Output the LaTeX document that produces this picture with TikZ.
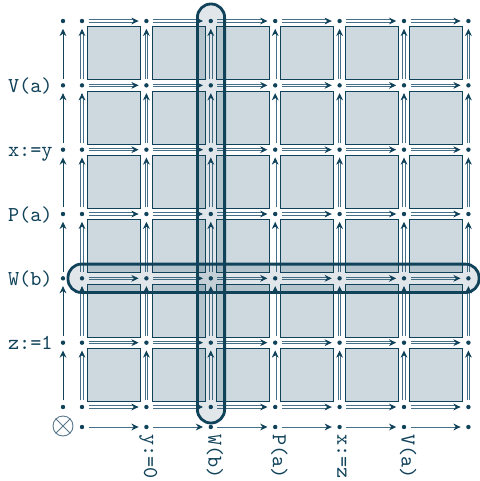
\documentclass[tikz,border=0pt]{standalone}
\usepackage{fontspec}
\usetikzlibrary{arrows.meta}
\definecolor{dk}{RGB}{16,66,90}
\definecolor{ln}{RGB}{70,112,136}
\definecolor{sq}{RGB}{205,216,223}
\definecolor{cx}{RGB}{90,120,140}
\begin{document}
\begin{tikzpicture}[x=0.5pt,y=-0.5pt,
  dot/.style={circle,fill=dk,inner sep=0pt,minimum size=2.2pt},
  sqbox/.style={draw=dk,line width=0.5pt,fill=sq,minimum width=26.5pt,minimum height=26.5pt,inner sep=0pt},
  gedge/.style={draw=ln,line width=0.45pt,double=white,double distance=0.8pt,-{Stealth[length=3.6pt,width=3.4pt,color=dk]},shorten <=2pt,shorten >=2.6pt},
  aedge/.style={draw=dk,line width=0.5pt,-{Stealth[length=3.6pt,width=3.4pt]},shorten <=2pt,shorten >=2.6pt},
  bedge/.style={draw=ln,line width=0.5pt,-{Stealth[length=3.6pt,width=3.4pt,color=dk]},shorten <=2pt,shorten >=2.6pt},
  hl/.style={draw=dk,line width=1.4pt,fill=dk,fill opacity=0.13,rounded corners=6.7pt,inner sep=0pt},
  lab/.style={text=dk,font=\fontsize{10.6}{12}\selectfont\ttfamily,inner sep=0pt}
]
\useasboundingbox (0,0) rectangle (480,481);
\fill[white] (0,0) rectangle (480,481);
% squares
\foreach \i in {0,...,5}{
  \foreach \j in {0,...,5}{
    \node[sqbox] (s-\i-\j) at ({82+64.4*\i+32.2},{407-64.33*\j-32.17}) {};
  }
}
% grid dots
\foreach \i in {0,...,6}{
  \foreach \j in {0,...,6}{
    \node[dot] (g-\i-\j) at ({82+64.4*\i},{407-64.33*\j}) {};
  }
  \node[dot] (a-\i) at (63,{407-64.33*\i}) {};
  \node[dot] (b-\i) at ({82+64.4*\i},427) {};
}
\node[circle,draw=cx,line width=0.45pt,minimum size=10pt,inner sep=0pt] (o) at (63,426) {};
\draw[cx,line width=0.45pt] (o.north west) -- (o.south east) (o.north east) -- (o.south west);
% grid edges
\foreach \i in {0,...,5}{
  \pgfmathtruncatemacro{\ni}{\i+1}
  \foreach \j in {0,...,6}{
    \draw[gedge] (g-\i-\j) -- (g-\ni-\j);
    \draw[gedge] (g-\j-\i) -- (g-\j-\ni);
  }
  \draw[aedge] (a-\i) -- (a-\ni);
  \draw[bedge] (b-\i) -- (b-\ni);
}
% highlights
\node[hl,minimum width=13.6pt,minimum height=209.5pt] (hv) at (211,213.5) {};
\node[hl,minimum width=205.5pt,minimum height=14.2pt] (hh) at (273.5,278.3) {};
% labels
\node[lab,anchor=base east] (l1) at (53,{342.67+7}) {z:=1};
\node[lab,anchor=base east] (l2) at (53,{278.34+7}) {W(b)};
\node[lab,anchor=base east] (l3) at (53,{214.01+7}) {P(a)};
\node[lab,anchor=base east] (l4) at (53,{149.68+7}) {x:=y};
\node[lab,anchor=base east] (l5) at (53,{85.35+7}) {V(a)};
\node[lab,anchor=mid west,rotate=-90] (m1) at (148.4,434) {y:=0};
\node[lab,anchor=mid west,rotate=-90] (m2) at (212.8,434) {W(b)};
\node[lab,anchor=mid west,rotate=-90] (m3) at (277.2,434) {P(a)};
\node[lab,anchor=mid west,rotate=-90] (m4) at (341.6,434) {x:=z};
\node[lab,anchor=mid west,rotate=-90] (m5) at (406,434) {V(a)};
\end{tikzpicture}
\end{document}
